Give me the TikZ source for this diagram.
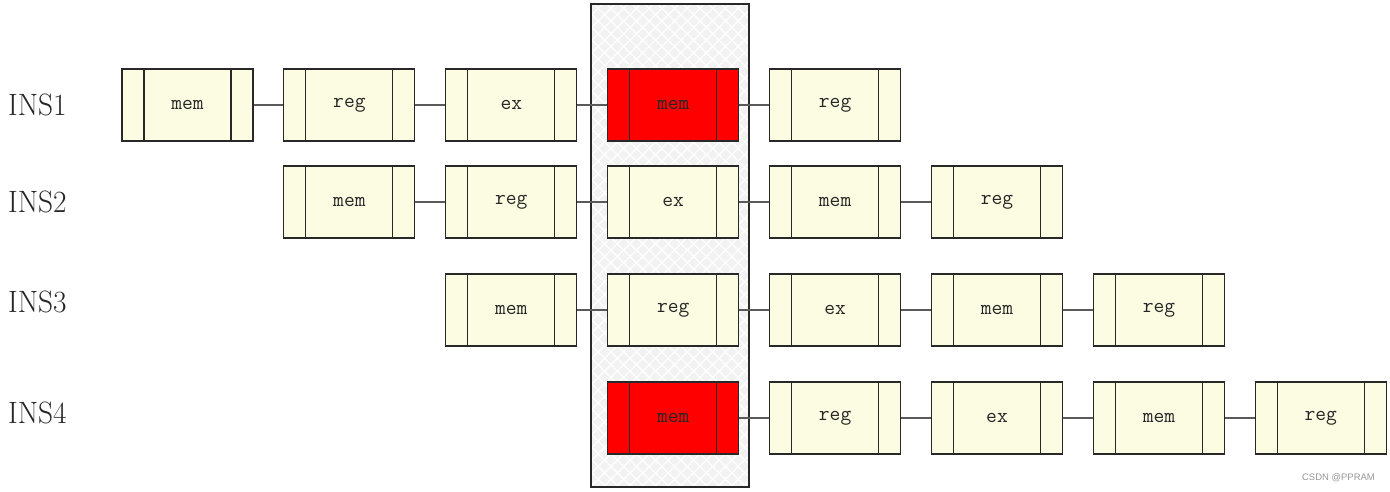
\documentclass[tikz,border=0pt]{standalone}
\usepackage{fontspec}
\usetikzlibrary{positioning,patterns.meta}
\newfontfamily\wmfont{Liberation Sans}
\definecolor{stagefill}{RGB}{252,252,226}
\definecolor{hazardred}{RGB}{255,0,0}
\definecolor{edgegray}{RGB}{40,40,40}
\definecolor{linkgray}{RGB}{90,90,90}
\definecolor{colbg}{RGB}{242,242,242}
\definecolor{markgray}{RGB}{150,150,150}
\tikzset{
  stagebox/.style={draw=edgegray, line width=1.1bp, fill=stagefill,
    minimum width=131bp, minimum height=72bp, inner sep=0pt,
    font=\ttfamily\fontsize{21}{21}\selectfont, text=black!85,
    path picture={
      \draw[edgegray, line width=1.1bp]
        ([xshift=22bp]path picture bounding box.south west) -- ([xshift=22bp]path picture bounding box.north west)
        ([xshift=-22bp]path picture bounding box.south east) -- ([xshift=-22bp]path picture bounding box.north east);
    }},
  hazard/.style={stagebox, fill=hazardred},
  link/.style={linkgray, line width=1.2bp},
  inslabel/.style={anchor=west, inner sep=0pt, font=\fontsize{31}{31}\selectfont, text=black!85}
}
\begin{document}
\begin{tikzpicture}[x=1bp, y=-1bp]
  \useasboundingbox (0,0) rectangle (1390,492);

  % Highlighted stage column
  \fill[colbg] (591,4) rectangle (749,487);
  \fill[pattern={Hatch[angle=45, distance=9bp, line width=1.2bp]}, pattern color=white] (591,4) rectangle (749,487);
  \draw[edgegray, line width=1.1bp] (591,4) rectangle (749,487);

  % Instruction labels
  \foreach \r/\y in {1/105, 2/202, 3/302, 4/413}{
    \node[inslabel] (ins\r) at (8,\y) {\scalebox{0.95}[1]{INS\r}};
  }

  % Pipeline stages
  \foreach \r/\y in {1/105, 2/202, 3/310, 4/418}{
    \foreach \s/\txt in {0/mem, 1/reg, 2/ex, 3/mem, 4/reg}{
      \pgfmathtruncatemacro{\c}{\r+\s}
      \pgfmathtruncatemacro{\p}{\c-1}
      \pgfmathtruncatemacro{\hz}{(\c==4)&&((\r==1)||(\r==4))}
      \ifnum\hz=1 \def\sty{hazard}\else \def\sty{stagebox}\fi
      \node[\sty] (b\r\c) at ({187.5+161.9*(\c-1)},\y) {\txt};
      \ifnum\s>0 \draw[link] (b\r\p) -- (b\r\c);\fi
    }
  }

  % Watermark
  \node[anchor=east, inner sep=0pt, font=\wmfont\fontsize{9.5}{10}\selectfont, text=markgray]
    (mark) at (1375,478) {CSDN @PPRAM};
\end{tikzpicture}
\end{document}
